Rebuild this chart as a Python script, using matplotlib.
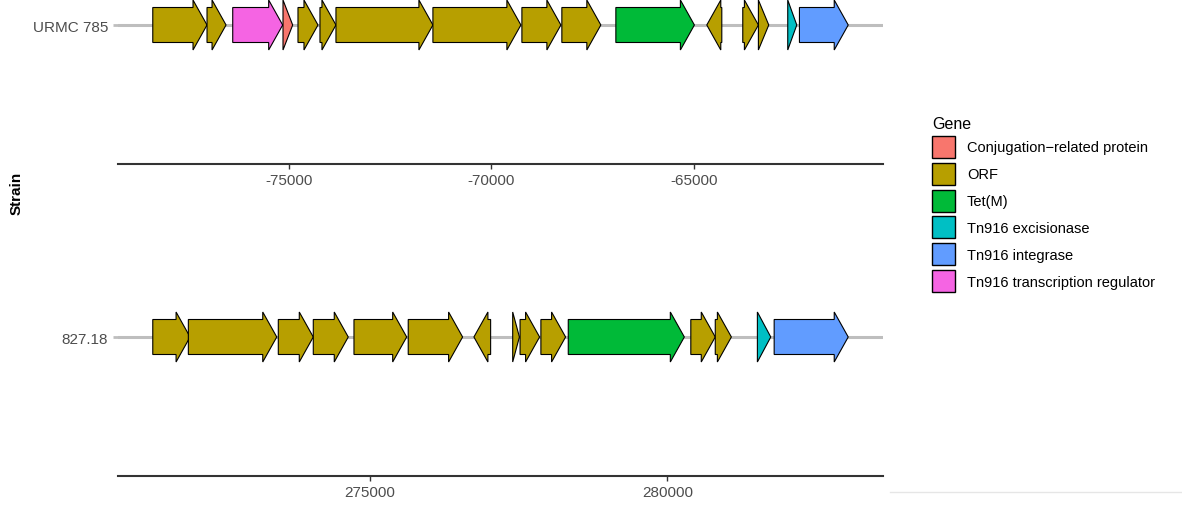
import matplotlib
matplotlib.use('Agg')
import matplotlib.pyplot as plt
from matplotlib.patches import Polygon, Patch
from matplotlib.lines import Line2D
from matplotlib.ticker import MultipleLocator

plt.rcParams['font.family'] = ['Liberation Sans', 'DejaVu Sans']
plt.rcParams['axes.unicode_minus'] = False

# gene categories and colours (ggplot hue palette)
gene_names = ['Conjugation\u2212related protein', 'ORF', 'Tet(M)',
              'Tn916 excisionase', 'Tn916 integrase',
              'Tn916 transcription regulator']
gene_colors = ['#F8766D', '#B79F00', '#00BA38', '#00BFC4', '#619CFF', '#F564E3']

# strain URMC 785 (start > end means reverse strand)
urmc_start = [-78365, -77025, -76390, -75148, -74778, -74235, -73840, -71445,
              -69247, -68260, -66926, -64309, -63791, -63405, -62680, -62391]
urmc_end = [-77025, -76555, -75156, -74909, -74284, -73840, -71445, -69272,
            -68284, -67297, -64986, -64680, -63405, -63149, -62457, -61186]
urmc_gene = ['ORF', 'ORF', 'Tn916 transcription regulator',
             'Conjugation\u2212related protein', 'ORF', 'ORF', 'ORF', 'ORF',
             'ORF', 'ORF', 'Tet(M)', 'ORF', 'ORF', 'ORF',
             'Tn916 excisionase', 'Tn916 integrase']

# strain 827.18
s827_start = [271349, 271947, 273459, 274047, 274731, 275643, 277028, 277399,
              277523, 277873, 278333, 280393, 280804, 281512, 281794]
s827_end = [271976, 273433, 274047, 274635, 275617, 276557, 276747, 277512,
            277851, 278288, 280284, 280804, 281075, 281737, 283039]
s827_gene = ['ORF', 'ORF', 'ORF', 'ORF', 'ORF', 'ORF', 'ORF', 'ORF', 'ORF',
             'ORF', 'Tet(M)', 'ORF', 'ORF', 'Tn916 excisionase',
             'Tn916 integrase']

strains = ['URMC 785', '827.18']


def gene_arrow(start, end, head_w, body_h=17.5, head_h=25.0):
    direction = 1 if end >= start else -1
    length = abs(end - start)
    hw = min(head_w, length) * direction
    neck = end - hw
    return [(start, -body_h), (start, body_h), (neck, body_h), (neck, head_h),
            (end, 0), (neck, -head_h), (neck, -body_h)]


def draw_track(ax, name, starts, ends, genes):
    color_of = dict(zip(gene_names, gene_colors))
    lo = min(min(starts), min(ends))
    hi = max(max(starts), max(ends))
    pad = (hi - lo) * 0.05
    ax.set_xlim(lo - pad, hi + pad)
    ax.set_ylim(-139, 26)
    head_w = (hi - lo + 2 * pad) * 14 / 765.0

    ax.axhline(0, color='#bebebe', linewidth=2.2, zorder=0)
    for s, e, g in zip(starts, ends, genes):
        ax.add_patch(Polygon(gene_arrow(s, e, head_w), closed=True,
                             facecolor=color_of[g], edgecolor='black',
                             linewidth=0.8, zorder=2))

    for side in ['left', 'right', 'top']:
        ax.spines[side].set_visible(False)
    ax.spines['bottom'].set_color('#333333')
    ax.spines['bottom'].set_linewidth(1.5)

    ax.set_yticks([0])
    ax.set_yticklabels([name])
    ax.tick_params(axis='y', length=3.6, width=2, color='#bebebe', pad=3.6,
                   labelsize=11, labelcolor='#4d4d4d')
    ax.xaxis.set_major_locator(MultipleLocator(5000))
    ax.ticklabel_format(axis='x', style='plain', useOffset=False)
    ax.tick_params(axis='x', length=3.6, width=1, color='#333333', pad=3,
                   labelsize=11, labelcolor='#4d4d4d')


fig = plt.figure(figsize=(11.82, 5.06), dpi=100)
ax_top = fig.add_axes([118 / 1182, (506 - 165) / 506, 765 / 1182, 165 / 506])
ax_bot = fig.add_axes([118 / 1182, (506 - 477) / 506, 765 / 1182, 165 / 506])

draw_track(ax_top, strains[0], urmc_start, urmc_end, urmc_gene)
draw_track(ax_bot, strains[1], s827_start, s827_end, s827_gene)

fig.text(17 / 1182, 1 - 193 / 506, 'Strain', rotation=90, fontsize=11,
         fontweight='bold', ha='center', va='center')

handles = [Patch(facecolor=c, edgecolor='black', linewidth=1.0)
           for c in gene_colors]
leg = fig.legend(handles, gene_names, loc='upper left',
                 bbox_to_anchor=(932 / 1182, 1 - 117 / 506),
                 frameon=False, title='Gene', fontsize=10.5,
                 title_fontsize=11.5, handlelength=1.6, handleheight=1.95,
                 labelspacing=0.33, handletextpad=0.8, borderpad=0,
                 borderaxespad=0, alignment='left')

# faint crop line at the bottom right of the original image
fig.add_artist(Line2D([890 / 1182, 1.0], [1 - 493 / 506, 1 - 493 / 506],
                      color='#e6e6e6', linewidth=1))

plt.savefig('out.png', dpi=100)
plt.close()
